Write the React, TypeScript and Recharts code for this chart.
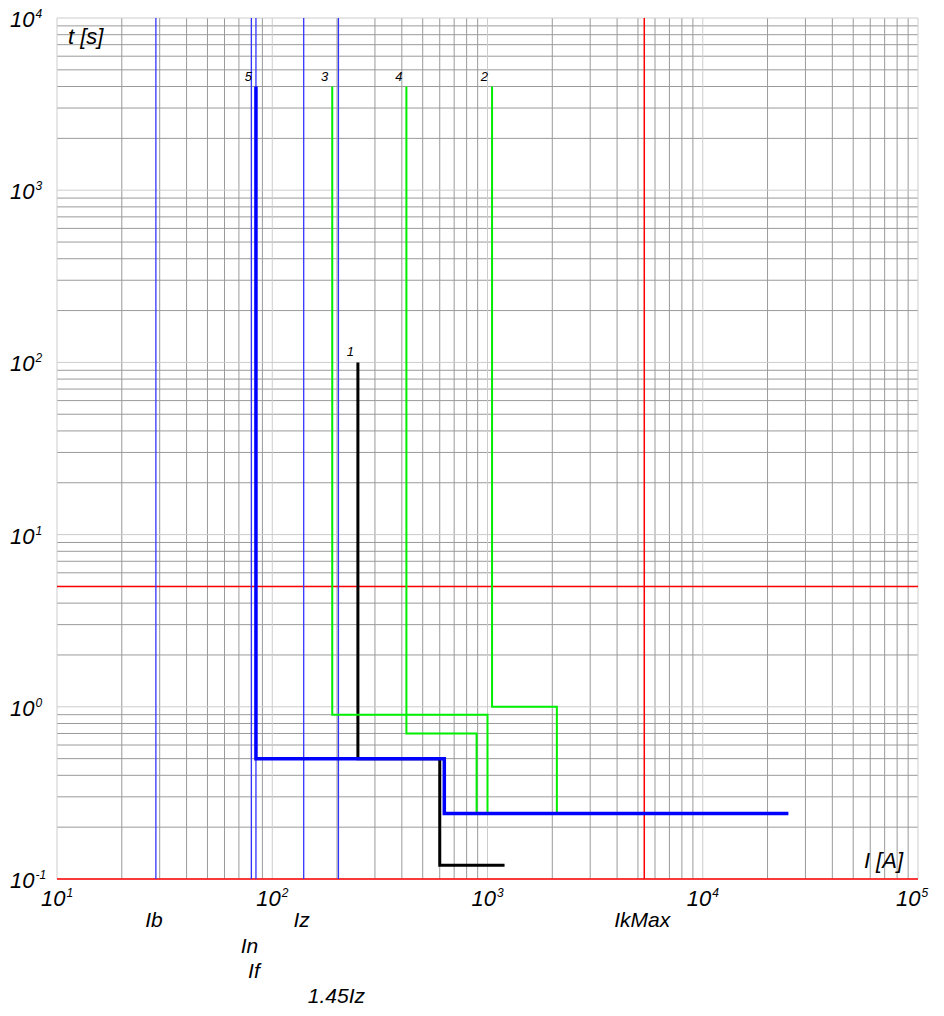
import React from 'react'
import { LineChart, Line, XAxis, YAxis, ReferenceLine } from 'recharts'

// tripping curves: current [A] / time [s]
const curve1I = [250, 250, 600, 600, 1200]
const curve1T = [100, 0.5, 0.5, 0.12, 0.12]
const curve2I = [1050, 1050, 2100, 2100]
const curve2T = [4000, 1, 1, 0.24]
const curve3I = [190, 190, 1000, 1000]
const curve3T = [4000, 0.9, 0.9, 0.24]
const curve4I = [420, 420, 890, 890]
const curve4T = [4000, 0.7, 0.7, 0.24]
const curve5I = [84, 84, 630, 630, 25000]
const curve5T = [4000, 0.5, 0.5, 0.24, 0.24]

// vertical markers
const markerNames = ['Ib', 'In', 'If', 'Iz', '1.45Iz', 'IkMax']
const markerValues = [28.8, 80, 84, 140, 203, 5350]
const markerRows = [0, 1, 2, 0, 3, 0]
const markerColors = ['#3333ff', '#3333ff', '#3333ff', '#3333ff', '#3333ff', '#ff0000']

const timeMarkers = [5, 0.1]

const xDecades = [10, 100, 1000, 10000, 100000]
const yDecades = [0.1, 1, 10, 100, 1000, 10000]
const steps = [2, 3, 4, 5, 6, 7, 8, 9]

const FONT = '"Liberation Sans", Arial, sans-serif'
const toPoints = (i: number[], t: number[]) => i.map((v, k) => ({ i: v, t: t[k] }))

const minorX = xDecades.slice(0, -1).flatMap((d) => steps.map((s) => d * s))
const minorY = yDecades.slice(0, -1).flatMap((d) => steps.map((s) => d * s))

const curves = [
  { name: '1', data: toPoints(curve1I, curve1T), color: '#000000', width: 3 },
  { name: '2', data: toPoints(curve2I, curve2T), color: '#00ee00', width: 2 },
  { name: '3', data: toPoints(curve3I, curve3T), color: '#00ee00', width: 2 },
  { name: '4', data: toPoints(curve4I, curve4T), color: '#00ee00', width: 2 },
  { name: '5', data: toPoints(curve5I, curve5T), color: '#0000ff', width: 3.5 },
]

function Pow({ x, y, exp, anchor }: { x: number; y: number; exp: number; anchor: 'start' | 'middle' }) {
  return (
    <text x={x} y={y} textAnchor={anchor} fontFamily={FONT} fontStyle="italic" fontSize={22} fill="#000">
      <tspan>10</tspan>
      <tspan dx={1} dy={-9} fontSize={12}>{exp}</tspan>
    </text>
  )
}

function XTick(props: any) {
  const exp = Math.round(Math.log10(props.payload.value))
  return <Pow x={props.x} y={props.y + 27} exp={exp} anchor="middle" />
}

function YTick(props: any) {
  const exp = Math.round(Math.log10(props.payload.value))
  return <Pow x={props.x - 47} y={props.y + 9} exp={exp} anchor="start" />
}

const rowOffsets = [48, 74, 99, 124]

export default function App() {
  return (
    <LineChart width={928} height={1000} margin={{ top: 10, right: 18, left: 0, bottom: 0 }}>
      <XAxis
        dataKey="i"
        type="number"
        scale="log"
        domain={[10, 100000]}
        ticks={xDecades}
        allowDataOverflow
        axisLine={false}
        tickLine={false}
        tickSize={0}
        tickMargin={0}
        height={129}
        tick={<XTick />}
        label={({ viewBox }: any) => (
          <text
            x={viewBox.x + viewBox.width - 15}
            y={viewBox.y - 11}
            textAnchor="end"
            fontFamily={FONT}
            fontStyle="italic"
            fontSize={22}
            fill="#000"
          >
            I [A]
          </text>
        )}
      />
      <YAxis
        dataKey="t"
        type="number"
        scale="log"
        domain={[0.1, 10000]}
        ticks={yDecades}
        allowDataOverflow
        axisLine={false}
        tickLine={false}
        tickSize={0}
        tickMargin={0}
        width={49}
        tick={<YTick />}
        label={({ viewBox }: any) => (
          <text
            x={viewBox.x + viewBox.width + 11}
            y={viewBox.y + 26}
            fontFamily={FONT}
            fontStyle="italic"
            fontSize={22}
            fill="#000"
          >
            t [s]
          </text>
        )}
      />

      {minorX.map((v) => (
        <ReferenceLine key={'mx' + v} x={v} stroke="#9a9a9a" strokeWidth={1} zIndex={-100} />
      ))}
      {minorY.map((v) => (
        <ReferenceLine key={'my' + v} y={v} stroke="#9a9a9a" strokeWidth={1} zIndex={-100} />
      ))}
      {xDecades.map((v) => (
        <ReferenceLine key={'dx' + v} x={v} stroke="#cccccc" strokeWidth={1} zIndex={-90} />
      ))}
      {yDecades.map((v) => (
        <ReferenceLine key={'dy' + v} y={v} stroke="#cccccc" strokeWidth={1} zIndex={-90} />
      ))}

      {timeMarkers.map((v) => (
        <ReferenceLine key={'t' + v} y={v} stroke="#ff0000" strokeWidth={1.5} zIndex={-50} />
      ))}
      {markerValues.map((v, k) => (
        <ReferenceLine
          key={'m' + k}
          x={v}
          stroke={markerColors[k]}
          strokeWidth={markerColors[k] === '#ff0000' ? 1.5 : 1.3}
          zIndex={-50}
          label={({ viewBox }: any) => (
            <text
              x={viewBox.x - 2}
              y={viewBox.y + viewBox.height + rowOffsets[markerRows[k]]}
              textAnchor="middle"
              fontFamily={FONT}
              fontStyle="italic"
              fontSize={21}
              fill="#000"
            >
              {markerNames[k]}
            </text>
          )}
        />
      ))}

      {curves.map((c) => (
        <Line
          key={c.name}
          data={c.data}
          dataKey="t"
          type="linear"
          stroke={c.color}
          strokeWidth={c.width}
          dot={false}
          activeDot={false}
          isAnimationActive={false}
          label={(p: any) =>
            p.index === 0 ? (
              <text
                key={'l' + c.name}
                x={p.x - 4}
                y={p.y - 6}
                textAnchor="end"
                fontFamily={FONT}
                fontStyle="italic"
                fontSize={13}
                fill="#000"
              >
                {c.name}
              </text>
            ) : (
              <g key={'l' + c.name + p.index} />
            )
          }
        />
      ))}
    </LineChart>
  )
}
